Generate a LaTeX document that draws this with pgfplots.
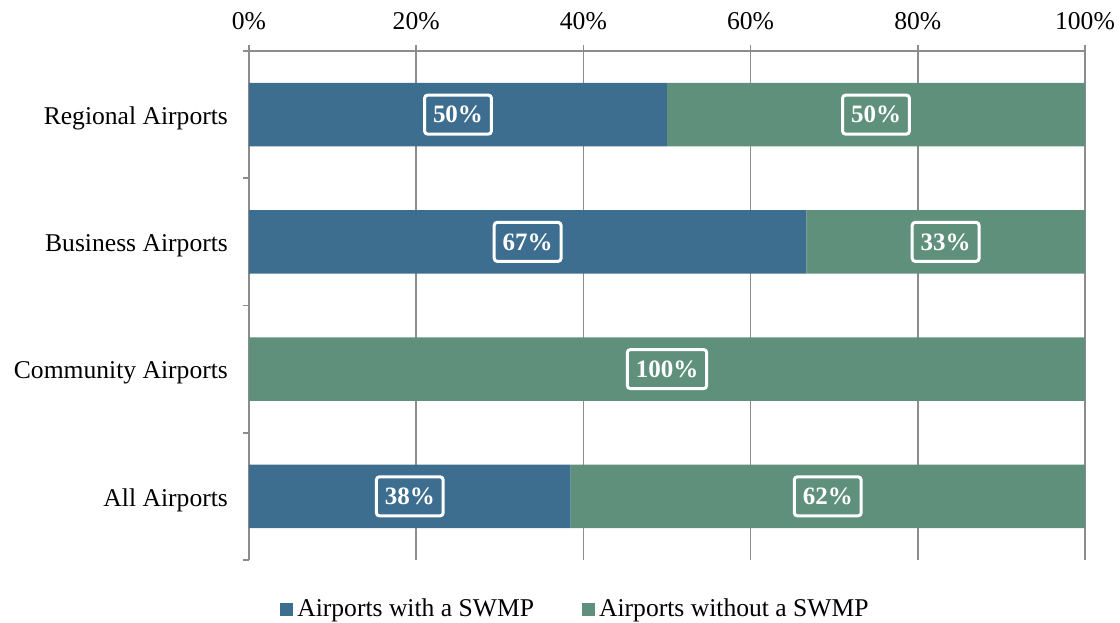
\documentclass[border=0pt]{standalone}
\usepackage{fontspec}
\setmainfont{Liberation Serif}
\usepackage{pgfplots}
\pgfplotsset{compat=1.18}
\usetikzlibrary{calc}
\definecolor{cblue}{HTML}{3D6E8F}
\definecolor{cgreen}{HTML}{5F907C}
\definecolor{cgrid}{HTML}{8C8C8C}
\begin{document}
\begin{tikzpicture}[font=\fontsize{12.8}{15}\selectfont,
  lbl/.style={draw=white, line width=1.5pt, rounded corners=1.5pt, text=white,
    font=\fontsize{12.5}{14}\selectfont\bfseries, inner xsep=4.2pt, minimum height=19.5pt}]
\begin{axis}[name=ax, scale only axis, width=418pt, height=254.5pt,
  xbar stacked, bar width=0.5,
  xmin=0, xmax=100, ymin=-0.5, ymax=3.5, y dir=reverse,
  axis x line*=top, axis y line*=left,
  axis line style={draw=cgrid, line width=0.8pt},
  tick align=outside, major tick length=3pt,
  /pgf/number format/assume math mode=true,
  xtick={0,20,40,60,80,100},
  xticklabel={\pgfmathprintnumber[assume math mode=true]{\tick}\%},
  xticklabel style={yshift=4pt},
  xtick style={draw=cgrid, line width=0.8pt},
  xmajorgrids=true,
  grid style={draw=cgrid, line width=0.8pt},
  ytick={0,1,2,3},
  yticklabels={Regional Airports, Business Airports, Community Airports, All Airports},
  ytick style={draw=none},
  yticklabel style={xshift=-4pt, yshift=-2pt},
  extra y ticks={-0.5,0.5,1.5,2.5,3.5},
  extra y tick labels={},
  extra y tick style={ytick style={draw=cgrid, line width=0.8pt}},
  legend style={at={(0.3917,-0.0963)}, anchor=center, draw=none, fill=none,
    legend columns=2, inner sep=0pt,
    /tikz/every even column/.append style={column sep=22pt}},
  legend image code/.code={\fill[#1] (0pt,-3.5pt) rectangle (6.5pt,3pt);},
]
\addplot[fill=cblue, draw=none] coordinates {(50,0) (66.67,1) (0,2) (38.46,3)};
\addlegendentry{Airports with a SWMP}
\addplot[fill=cgreen, draw=none] coordinates {(50,0) (33.33,1) (100,2) (61.54,3)};
\addlegendentry{Airports without a SWMP}
\coordinate (l1) at (axis cs:25,0);
\coordinate (l2) at (axis cs:75,0);
\coordinate (l3) at (axis cs:33.33,1);
\coordinate (l4) at (axis cs:83.33,1);
\coordinate (l5) at (axis cs:50,2);
\coordinate (l6) at (axis cs:19.23,3);
\coordinate (l7) at (axis cs:69.23,3);
\end{axis}
\node[lbl] at (l1) {50\%};
\node[lbl] at (l2) {50\%};
\node[lbl] at (l3) {67\%};
\node[lbl] at (l4) {33\%};
\node[lbl] at (l5) {100\%};
\node[lbl] at (l6) {38\%};
\node[lbl] at (l7) {62\%};
\pgfresetboundingbox
\useasboundingbox ($(ax.south west)+(-124.5pt,-31.5pt)$) rectangle ($(ax.north east)+(17.5pt,25.5pt)$);
\end{tikzpicture}
\end{document}
